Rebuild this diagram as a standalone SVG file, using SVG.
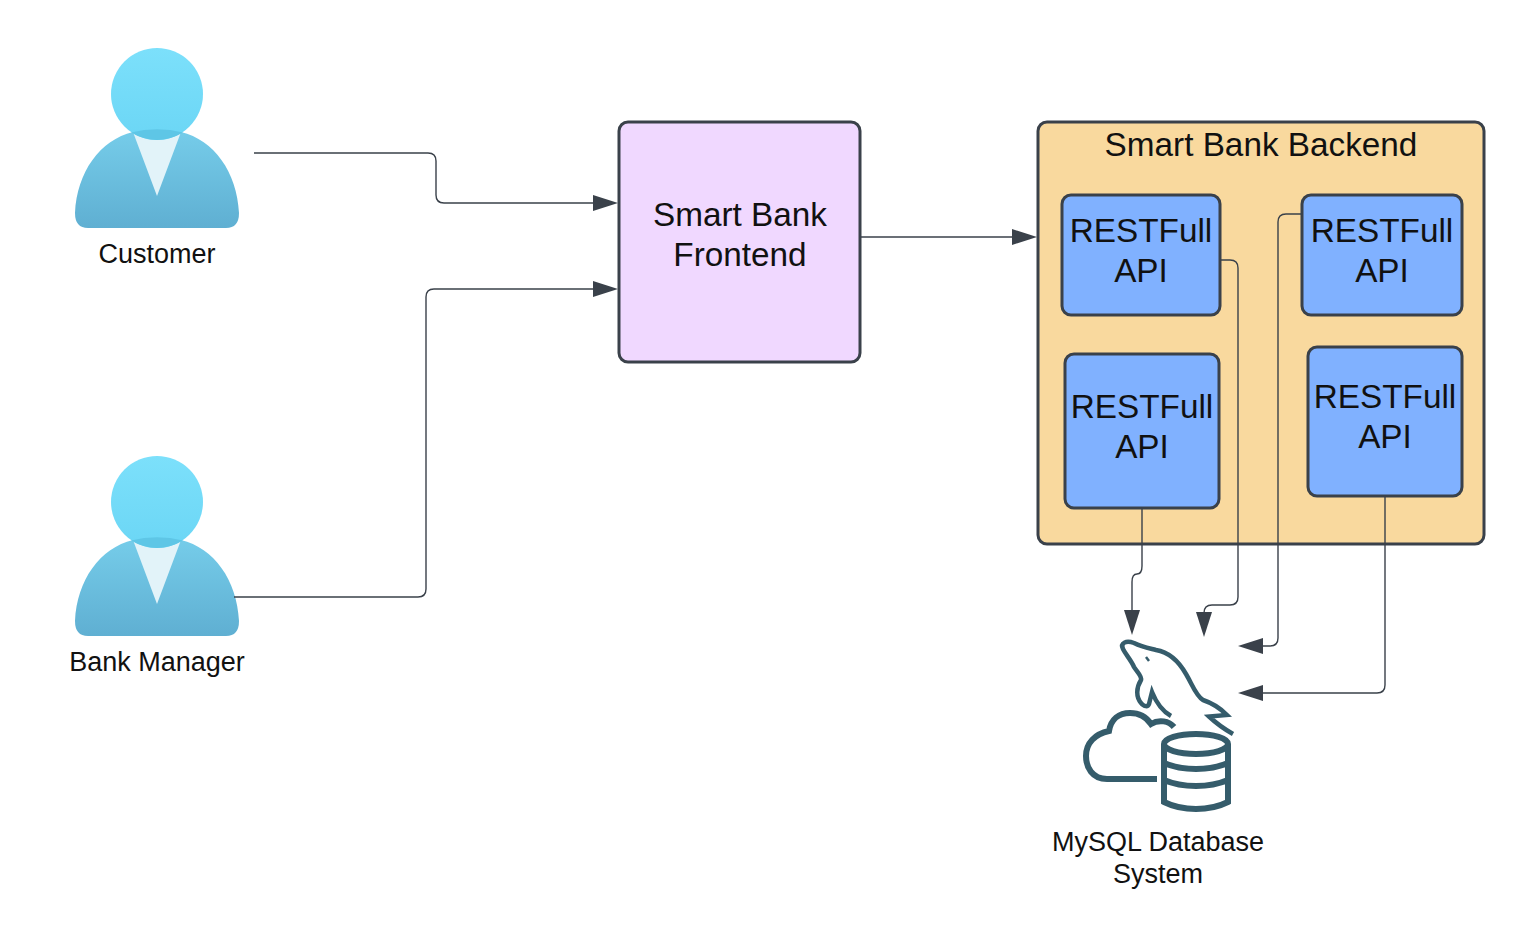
<svg xmlns="http://www.w3.org/2000/svg" width="1526" height="942" viewBox="0 0 1526 942">
<style>
text{font-family:"Liberation Sans",Arial,sans-serif;fill:#111;text-anchor:middle}
.box{stroke:#3a414a;stroke-width:3}
.api{fill:#80b1ff}
.big{font-size:33.3px}
.lbl{font-size:27px}
.conn{fill:none;stroke:#3a414a;stroke-width:1.4}
.ah{fill:#3a414a;stroke:none}
.db{fill:none;stroke:#355c6b;stroke-width:6}
.fin{fill:none;stroke:#355c6b;stroke-width:4.500;stroke-linejoin:miter}
</style>
<defs>
<linearGradient id="body" x1="0" y1="0" x2="0" y2="1"><stop offset="0" stop-color="#76cdea"/><stop offset="1" stop-color="#5fafd2"/></linearGradient>
<linearGradient id="head" x1="0" y1="0" x2="0" y2="1"><stop offset="0" stop-color="#7ce0fb"/><stop offset="1" stop-color="#6bd6f5"/></linearGradient>
<g id="person">
<path d="M75 213C77 172 100 140 133 132Q157 126 181 132C214 140 237 172 239 213Q239 228 226 228H88Q75 228 75 213Z" fill="url(#body)"/>
<path d="M133 132L157 196L181 132Q157 146 133 132Z" fill="#e2f3f9"/>
<circle cx="157" cy="94" r="46" fill="url(#head)"/>
<path d="M131 132.500Q157 126 183 132.500Q170 140 157 140Q144 140 131 132.500Z" fill="#5ec6e6"/>
</g>
</defs>
<g id="customer"><use href="#person"/><text class="lbl" x="157" y="263">Customer</text></g>
<g id="manager"><use href="#person" y="408"/><text class="lbl" x="157" y="671">Bank Manager</text></g>
<g id="frontend"><rect class="box" x="619" y="122" width="241" height="240" rx="9" fill="#f0d8ff"/><text class="big" x="740" y="226">Smart Bank</text><text class="big" x="740" y="266">Frontend</text></g>
<g id="backend"><rect class="box" x="1038" y="122" width="446" height="422" rx="9" fill="#f9d99e"/><text class="big" x="1261" y="156">Smart Bank Backend</text></g>
<g id="api1"><rect class="box api" x="1062" y="195" width="158" height="120" rx="9"/><text class="big" x="1141" y="242">RESTFull</text><text class="big" x="1141" y="282">API</text></g>
<g id="api2"><rect class="box api" x="1302" y="195" width="160" height="120" rx="9"/><text class="big" x="1382" y="242">RESTFull</text><text class="big" x="1382" y="282">API</text></g>
<g id="api3"><rect class="box api" x="1065" y="354" width="154" height="154" rx="9"/><text class="big" x="1142" y="418">RESTFull</text><text class="big" x="1142" y="458">API</text></g>
<g id="api4"><rect class="box api" x="1308" y="347" width="154" height="149" rx="9"/><text class="big" x="1385" y="408">RESTFull</text><text class="big" x="1385" y="448">API</text></g>
<g id="connectors">
<path class="conn" d="M254 153H428Q436 153 436 161V195Q436 203 444 203H596"/>
<path class="ah" d="M593 195L618 203L593 211Z"/>
<path class="conn" d="M234 597H418Q426 597 426 589V297Q426 289 434 289H596"/>
<path class="ah" d="M593 281L618 289L593 297Z"/>
<path class="conn" d="M860 237H1015"/>
<path class="ah" d="M1012 229L1037 237L1012 245Z"/>
<path class="conn" d="M1142 508V566Q1142 574 1137 574Q1132 574 1132 582V615"/>
<path class="ah" d="M1124 610L1132 635L1140 610Z"/>
<path class="conn" d="M1220 260H1230Q1238 260 1238 268V597Q1238 605 1230 605H1212Q1204 605 1204 613V615"/>
<path class="ah" d="M1196 612L1204 637L1212 612Z"/>
<path class="conn" d="M1302 214H1286Q1278 214 1278 222V638Q1278 646 1270 646H1260"/>
<path class="ah" d="M1263 638L1238 646L1263 654Z"/>
<path class="conn" d="M1385 496V685Q1385 693 1377 693H1260"/>
<path class="ah" d="M1263 685L1238 693L1263 701Z"/>
</g>
<g id="mysql">
<path class="fin" d="M1233 734C1226 730 1217 724 1209 716.500L1227 715C1220 708 1212 703 1203 700C1196 696 1192 684 1186 674C1178 660 1168 652 1156 650C1148 648 1142 647 1134 643C1126 640 1120 643 1123 649C1126 655 1131 660 1134 667C1138 673 1142 676 1141 680C1136 688 1136 697 1141 703C1144 707 1148 707 1149 704C1150 700 1151 696 1152 692C1156 702 1162 711 1171 716"/>
<path d="M1146 657L1149 661" fill="none" stroke="#355c6b" stroke-width="2.500"/>
<path class="db" d="M1157 779H1107C1092 779 1086 767 1086 756C1086 743 1095 734 1109 731C1111 719 1119 713 1130 713C1140 713 1147 718 1151 724C1159 719 1169 721 1174 727"/>
<ellipse class="db" cx="1196" cy="744" rx="32" ry="10"/>
<path class="db" d="M1164 744V802Q1178 809 1196 809Q1214 809 1228 802V744M1164 763Q1178 769 1196 769Q1214 769 1228 763M1164 780Q1178 786 1196 786Q1214 786 1228 780"/>
<text class="lbl" x="1158" y="851">MySQL Database</text><text class="lbl" x="1158" y="883">System</text>
</g>
</svg>
